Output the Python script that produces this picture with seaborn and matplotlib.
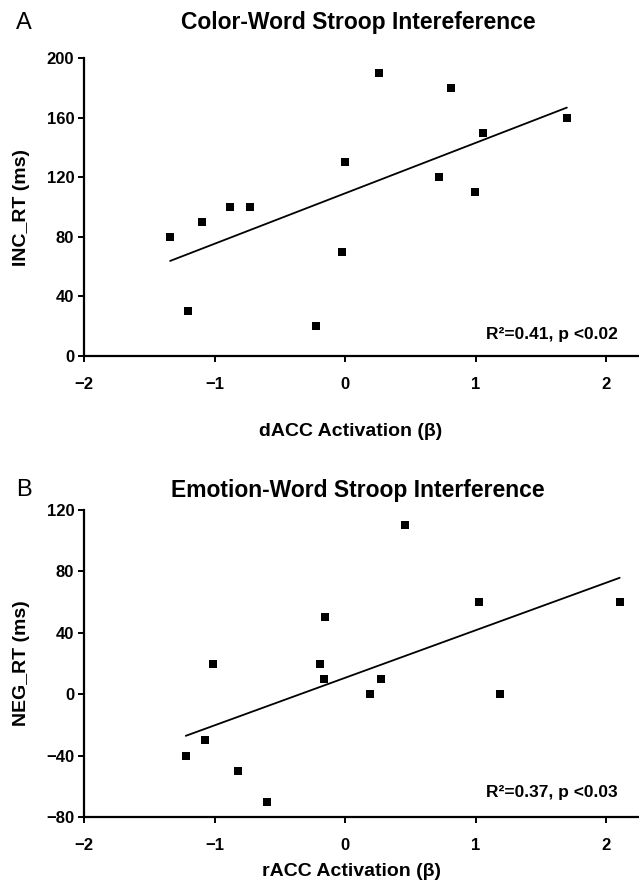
import numpy as np
import pandas as pd
import matplotlib
matplotlib.use("Agg")
import matplotlib.pyplot as plt
import seaborn as sns

# panel A : color-word stroop
dacc_beta = [-1.34, -1.20, -1.095, -0.88, -0.73, -0.225, -0.02, 0.0, 0.26, 0.72, 0.81, 0.995, 1.055, 1.70]
inc_rt = [80, 30, 90, 100, 100, 20, 70, 130, 190, 120, 180, 110, 150, 160]

# panel B : emotion-word stroop
racc_beta = [-1.22, -1.076, -1.01, -0.82, -0.595, -0.19, -0.16, -0.15, 0.19, 0.275, 0.46, 1.026, 1.19, 2.105]
neg_rt = [-40, -30, 20, -50, -70, 20, 10, 50, 0, 10, 110, 60, 0, 60]

xticks = [-2, -1, 0, 1, 2]
yticks_a = [0, 40, 80, 120, 160, 200]
yticks_b = [-80, -40, 0, 40, 80, 120]

df_a = pd.DataFrame({"x": dacc_beta, "y": inc_rt})
df_b = pd.DataFrame({"x": racc_beta, "y": neg_rt})

sns.set_style("ticks")
plt.rcParams["font.family"] = ["Liberation Sans", "DejaVu Sans"]
plt.rcParams["axes.unicode_minus"] = True
for k in ["text.color", "axes.labelcolor", "xtick.color", "ytick.color", "axes.edgecolor"]:
    plt.rcParams[k] = "black"

W, H = 639, 883
fig = plt.figure(figsize=(W / 100, H / 100), dpi=100)


def px_axes(left, top, right, bottom):
    return fig.add_axes([left / W, 1 - bottom / H, (right - left) / W, (bottom - top) / H])


panels = [
    # (data, axes box px, ylim, yticks, xlabel, ylabel, title, letter, title_y, note, note_y, xlab_y)
    (df_a, (84, 58, 639, 356), (0, 200), yticks_a, "dACC Activation (\u03b2)", "INC_RT (ms)",
     "Color-Word Stroop Intereference", "A", 23, "R\u00b2=0.41, p <0.02", 335, 431),
    (df_b, (84, 510, 639, 817), (-80, 120), yticks_b, "rACC Activation (\u03b2)", "NEG_RT (ms)",
     "Emotion-Word Stroop Interference", "B", 490, "R\u00b2=0.37, p <0.03", 792, 871),
]

for df, box, ylim, yt, xlab, ylab, title, letter, ty, note, ny, xly in panels:
    left, top, right, bottom = box
    ax = px_axes(*box)
    sns.regplot(data=df, x="x", y="y", ax=ax, ci=None, truncate=True, color="black",
                marker="s", scatter_kws={"s": 34, "linewidths": 0, "alpha": 1},
                line_kws={"lw": 1.3})
    ax.set_xlim(-2, 2 + (right - 606) / 130.5)
    ax.set_ylim(*ylim)
    ax.set_xticks(xticks)
    ax.set_yticks(yt)
    sns.despine(ax=ax)
    for s in ["left", "bottom"]:
        ax.spines[s].set_linewidth(1.6)
    ax.tick_params(axis="both", direction="out", length=4, width=1.4, labelsize=12)
    ax.tick_params(axis="x", pad=11)
    ax.tick_params(axis="y", pad=3)
    for lab in ax.get_xticklabels() + ax.get_yticklabels():
        lab.set_fontweight("bold")

    ax.set_xlabel(xlab, fontsize=14, fontweight="bold")
    ax.xaxis.set_label_coords((351 - left) / (right - left), (bottom - xly) / (bottom - top))
    ax.xaxis.label.set_va("center")
    ax.set_ylabel(ylab, fontsize=14, fontweight="bold")
    ax.yaxis.set_label_coords((22 - left) / (right - left), 0.5)
    ax.yaxis.label.set_va("center")

    ax.text((618 - left) / (right - left), (bottom - ny) / (bottom - top), note,
            transform=ax.transAxes, ha="right", va="center", fontsize=12.5, fontweight="bold")

    fig.text(358 / W, 1 - ty / H, title, ha="center", va="center", fontsize=16.5, fontweight="bold")
    fig.text(24 / W, 1 - ty / H, letter, ha="center", va="center", fontsize=17)

fig.savefig("out.png", dpi=100)
